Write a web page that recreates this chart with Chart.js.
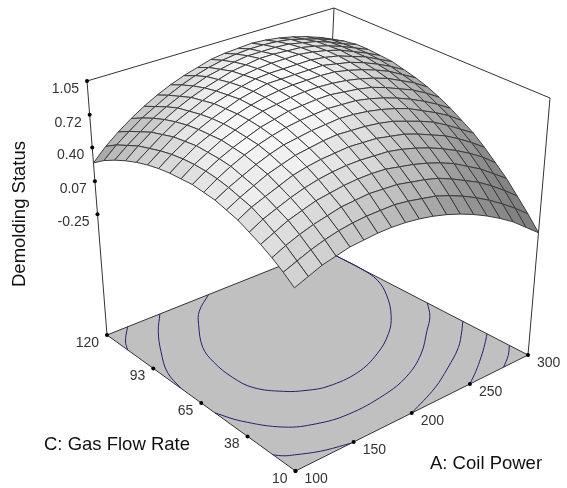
<!DOCTYPE html>
<html>
<head>
<meta charset="utf-8">
<style>
    html, body { margin: 0; padding: 0; background: #fff; }
    canvas { display: block; }
</style>
<script src="https://cdn.jsdelivr.net/npm/chart.js@4"></script>
</head>
<body>
<canvas id="surfaceChart" width="567" height="488"></canvas>
<script>
// axis ticks
const coilPowerTicks = [100, 150, 200, 250, 300];
const gasFlowTicks = [10, 38, 65, 93, 120];
const gasFlowLabels = ["10", "38", "65", "93", "120"];
const statusTicks = [1.05, 0.72, 0.40, 0.07, -0.25];
const statusLabels = ["1.05", "0.72", "0.40", "0.07", "-0.25"];

// surface heights, one row per coil power step, one column per gas flow step
const statusGrid = [
    [0.24, 0.32, 0.39, 0.45, 0.50, 0.55, 0.58, 0.61, 0.62, 0.63, 0.62, 0.61, 0.59, 0.56, 0.52, 0.47, 0.41, 0.34, 0.25],
    [0.29, 0.37, 0.45, 0.51, 0.57, 0.62, 0.65, 0.68, 0.70, 0.71, 0.71, 0.70, 0.68, 0.65, 0.61, 0.57, 0.51, 0.45, 0.37],
    [0.34, 0.42, 0.50, 0.57, 0.62, 0.67, 0.71, 0.74, 0.77, 0.78, 0.78, 0.78, 0.76, 0.74, 0.70, 0.66, 0.60, 0.54, 0.47],
    [0.37, 0.46, 0.54, 0.61, 0.67, 0.72, 0.77, 0.80, 0.83, 0.84, 0.85, 0.84, 0.83, 0.81, 0.78, 0.74, 0.69, 0.63, 0.56],
    [0.40, 0.49, 0.57, 0.65, 0.71, 0.77, 0.81, 0.85, 0.88, 0.89, 0.90, 0.90, 0.89, 0.87, 0.84, 0.81, 0.76, 0.70, 0.64],
    [0.41, 0.51, 0.60, 0.67, 0.74, 0.80, 0.85, 0.89, 0.92, 0.94, 0.95, 0.95, 0.94, 0.93, 0.90, 0.87, 0.82, 0.77, 0.71],
    [0.42, 0.52, 0.61, 0.69, 0.76, 0.82, 0.87, 0.91, 0.95, 0.97, 0.99, 0.99, 0.99, 0.97, 0.95, 0.92, 0.88, 0.83, 0.77],
    [0.42, 0.52, 0.62, 0.70, 0.77, 0.83, 0.89, 0.93, 0.97, 1.00, 1.01, 1.02, 1.02, 1.01, 0.99, 0.96, 0.93, 0.88, 0.82],
    [0.41, 0.52, 0.61, 0.70, 0.77, 0.84, 0.90, 0.94, 0.98, 1.01, 1.03, 1.04, 1.05, 1.04, 1.02, 1.00, 0.96, 0.92, 0.86],
    [0.39, 0.50, 0.60, 0.69, 0.76, 0.83, 0.89, 0.95, 0.99, 1.02, 1.04, 1.05, 1.05, 1.05, 1.04, 1.02, 0.99, 0.95, 0.90],
    [0.36, 0.47, 0.57, 0.66, 0.75, 0.82, 0.88, 0.94, 0.98, 1.02, 1.04, 1.05, 1.05, 1.05, 1.05, 1.04, 1.01, 0.97, 0.92],
    [0.32, 0.44, 0.54, 0.63, 0.72, 0.79, 0.86, 0.92, 0.97, 1.00, 1.03, 1.05, 1.05, 1.05, 1.05, 1.04, 1.01, 0.98, 0.93],
    [0.27, 0.39, 0.50, 0.59, 0.68, 0.76, 0.83, 0.89, 0.94, 0.98, 1.01, 1.04, 1.05, 1.05, 1.05, 1.03, 1.01, 0.98, 0.94],
    [0.21, 0.33, 0.44, 0.54, 0.63, 0.71, 0.78, 0.85, 0.90, 0.95, 0.98, 1.01, 1.02, 1.03, 1.03, 1.02, 1.00, 0.97, 0.93],
    [0.14, 0.26, 0.37, 0.48, 0.57, 0.65, 0.73, 0.80, 0.85, 0.90, 0.94, 0.97, 0.99, 1.00, 1.00, 0.99, 0.97, 0.95, 0.91],
    [0.06, 0.18, 0.30, 0.40, 0.50, 0.59, 0.67, 0.73, 0.79, 0.84, 0.89, 0.92, 0.94, 0.95, 0.96, 0.95, 0.94, 0.91, 0.88],
    [-0.03, 0.09, 0.21, 0.32, 0.42, 0.51, 0.59, 0.66, 0.72, 0.78, 0.82, 0.86, 0.88, 0.90, 0.90, 0.90, 0.89, 0.87, 0.84],
    [-0.14, -0.01, 0.11, 0.22, 0.33, 0.42, 0.50, 0.58, 0.64, 0.70, 0.75, 0.78, 0.81, 0.83, 0.84, 0.84, 0.83, 0.82, 0.79],
    [-0.25, -0.12, 0.00, 0.12, 0.22, 0.32, 0.41, 0.48, 0.55, 0.61, 0.66, 0.70, 0.73, 0.76, 0.77, 0.78, 0.78, 0.76, 0.73]
];

// contour lines on the floor, coil power and gas flow pairs
const contourInnerPower = [194, 174, 162, 145, 139, 137, 140, 153, 166, 180, 206, 231, 254, 271, 287, 297, 300, 300];
const contourInnerFlow = [120, 113, 106, 93, 83, 71, 61, 52, 47, 44, 44, 49, 57, 66, 78, 89, 100, 113];
const contourMidPower = [100, 108, 126, 145, 168, 201, 227, 252, 275, 289, 300];
const contourMidFlow = [57, 47, 34, 28, 25, 26, 30, 38, 49, 56, 64];
const contourMidLeftPower = [100, 105, 118, 133, 149];
const contourMidLeftFlow = [77, 88, 100, 111, 120];
const contourFrontPower = [100, 105, 111, 127, 148];
const contourFrontFlow = [23, 20, 18, 13.5, 10];
const contourLeftPower = [100, 106, 119];
const contourLeftFlow = [108, 113, 120];
const contourRight1Power = [200, 231, 253, 275, 291, 300];
const contourRight1Flow = [10, 17, 24, 32, 40, 45];
const contourRight2Power = [250, 263, 277, 290, 300];
const contourRight2Flow = [10, 15, 21, 27, 32];
const contourRight3Power = [279, 291, 300];
const contourRight3Flow = [10, 15, 20];

const powerMin = 100, powerMax = 300;
const flowMin = 10, flowMax = 120;
const statusFloor = -1.43, statusTop = 1.05;

// where the corners of the 3D box land on the page
const box = {
    floorFront: [295.5, 471], floorRight: [528, 355], floorLeft: [107, 335], floorBack: [323, 249],
    topFront: [294, 199], topRight: [550, 98], topLeft: [87, 81], topBack: [334, 8]
};

function project(power, flow, status) {
    const s = (power - powerMin) / (powerMax - powerMin);
    const t = (flow - flowMin) / (flowMax - flowMin);
    const h = (status - statusFloor) / (statusTop - statusFloor);
    const mix = function (k) {
        const low = (1 - s) * (1 - t) * box.floorFront[k] + s * (1 - t) * box.floorRight[k] + (1 - s) * t * box.floorLeft[k] + s * t * box.floorBack[k];
        const high = (1 - s) * (1 - t) * box.topFront[k] + s * (1 - t) * box.topRight[k] + (1 - s) * t * box.topLeft[k] + s * t * box.topBack[k];
        return low * (1 - h) + high * h;
    };
    return { x: mix(0), y: mix(1) };
}

const cellsPower = statusGrid.length - 1;
const cellsFlow = statusGrid[0].length - 1;
const gridPower = function (i) { return powerMin + i * (powerMax - powerMin) / cellsPower; };
const gridFlow = function (j) { return flowMin + j * (flowMax - flowMin) / cellsFlow; };

function cellColor(i, j) {
    const g = statusGrid;
    const slopeP = (g[i + 1][j] + g[i + 1][j + 1] - g[i][j] - g[i][j + 1]) / 2 * cellsPower / 2;
    const slopeF = (g[i][j + 1] + g[i + 1][j + 1] - g[i][j] - g[i + 1][j]) / 2 * cellsFlow / 2;
    const nx = -slopeP, ny = -slopeF, nz = 1.3;
    const dot = (nx * -0.14 + ny * -0.04 + nz) / (Math.sqrt(nx * nx + ny * ny + nz * nz) * 1.01);
    // steep faces stay mid grey, only the flat top goes close to white
    const lit = Math.max(0, Math.min(1, (dot - 0.58) / 0.41));
    const v = Math.round(125 + 125 * Math.pow(lit, 1.3));
    return "rgb(" + v + "," + v + "," + v + ")";
}

const datasets = [];
let drawCount = 0;
function addMark(points, style) {
    // higher order is painted first, so count downwards
    drawCount++;
    datasets.push(Object.assign({
        data: points, showLine: true, pointRadius: 0, tension: 0,
        borderWidth: 1, borderColor: "#333", fill: false, order: 100000 - drawCount
    }, style));
}

function edge(a, b) {
    return [project(a[0], a[1], a[2]), project(b[0], b[1], b[2])];
}

// floor
addMark([
    project(powerMin, flowMin, statusFloor), project(powerMax, flowMin, statusFloor),
    project(powerMax, flowMax, statusFloor), project(powerMin, flowMax, statusFloor),
    project(powerMin, flowMin, statusFloor)
], { fill: "shape", backgroundColor: "#c0c0c0", borderColor: "#333" });

// contours
[
    [contourInnerPower, contourInnerFlow], [contourMidPower, contourMidFlow],
    [contourMidLeftPower, contourMidLeftFlow], [contourFrontPower, contourFrontFlow],
    [contourLeftPower, contourLeftFlow], [contourRight1Power, contourRight1Flow],
    [contourRight2Power, contourRight2Flow], [contourRight3Power, contourRight3Flow]
].forEach(function (c) {
    addMark(c[0].map(function (p, k) { return project(p, c[1][k], statusFloor); }),
        { borderColor: "#22226e", tension: 0.4 });
});

// box edges
addMark(edge([powerMin, flowMax, statusFloor], [powerMin, flowMax, statusTop]));
addMark(edge([powerMax, flowMin, statusFloor], [powerMax, flowMin, statusTop]));
addMark(edge([powerMax, flowMax, statusFloor], [powerMax, flowMax, statusTop]));
addMark(edge([powerMin, flowMax, statusTop], [powerMax, flowMax, statusTop]));
addMark(edge([powerMax, flowMin, statusTop], [powerMax, flowMax, statusTop]));

// tick dots
const tickDots = [];
coilPowerTicks.forEach(function (p) { tickDots.push(project(p, flowMin, statusFloor)); });
gasFlowTicks.forEach(function (f) { tickDots.push(project(powerMin, f, statusFloor)); });
statusTicks.forEach(function (z) { tickDots.push(project(powerMin, flowMax, z)); });
addMark(tickDots, { showLine: false, pointRadius: 2, pointBackgroundColor: "#000", pointBorderWidth: 0 });

// surface cells, far corner first so nearer cells paint over them
for (let i = cellsPower - 1; i >= 0; i--) {
    for (let j = cellsFlow - 1; j >= 0; j--) {
        addMark([
            project(gridPower(i), gridFlow(j), statusGrid[i][j]),
            project(gridPower(i + 1), gridFlow(j), statusGrid[i + 1][j]),
            project(gridPower(i + 1), gridFlow(j + 1), statusGrid[i + 1][j + 1]),
            project(gridPower(i), gridFlow(j + 1), statusGrid[i][j + 1]),
            project(gridPower(i), gridFlow(j), statusGrid[i][j])
        ], { fill: "shape", backgroundColor: cellColor(i, j), borderColor: "#3c3c3c" });
    }
}

// tick labels and axis titles
const labelPlugin = {
    id: "boxLabels",
    afterDraw: function (chart) {
        const ctx = chart.ctx;
        const xs = chart.scales.x, ys = chart.scales.y;
        const put = function (pos, text, dx, dy, align) {
            ctx.textAlign = align;
            ctx.fillText(text, xs.getPixelForValue(pos.x) + dx, ys.getPixelForValue(pos.y) + dy);
        };
        ctx.save();
        ctx.textBaseline = "middle";
        ctx.fillStyle = "#333";
        ctx.font = "14px 'Liberation Sans'";
        coilPowerTicks.forEach(function (p) { put(project(p, flowMin, statusFloor), String(p), 9, 8, "left"); });
        gasFlowTicks.forEach(function (f, k) { put(project(powerMin, f, statusFloor), gasFlowLabels[k], -8, 8, "right"); });
        statusTicks.forEach(function (z, k) { put(project(powerMin, flowMax, z), statusLabels[k], -8, 8, "right"); });
        ctx.fillStyle = "#111";
        ctx.font = "18.5px 'Liberation Sans'";
        ctx.textAlign = "left";
        ctx.fillText("C: Gas Flow Rate", 44, 445);
        ctx.fillText("A: Coil Power", 430, 464);
        ctx.translate(20, 214);
        ctx.rotate(-Math.PI / 2);
        ctx.textAlign = "center";
        ctx.fillText("Demolding Status", 0, 0);
        ctx.restore();
    }
};

document.addEventListener("DOMContentLoaded", function () {
    new Chart(document.getElementById("surfaceChart"), {
        type: "scatter",
        data: { datasets: datasets },
        options: {
            responsive: false,
            animation: false,
            layout: { padding: 0, autoPadding: false },
            plugins: {
                legend: { display: false },
                tooltip: { enabled: false }
            },
            scales: {
                x: { display: false, min: 0, max: 567 },
                y: { display: false, min: 0, max: 488, reverse: true }
            }
        },
        plugins: [labelPlugin]
    });
});
</script>
</body>
</html>
